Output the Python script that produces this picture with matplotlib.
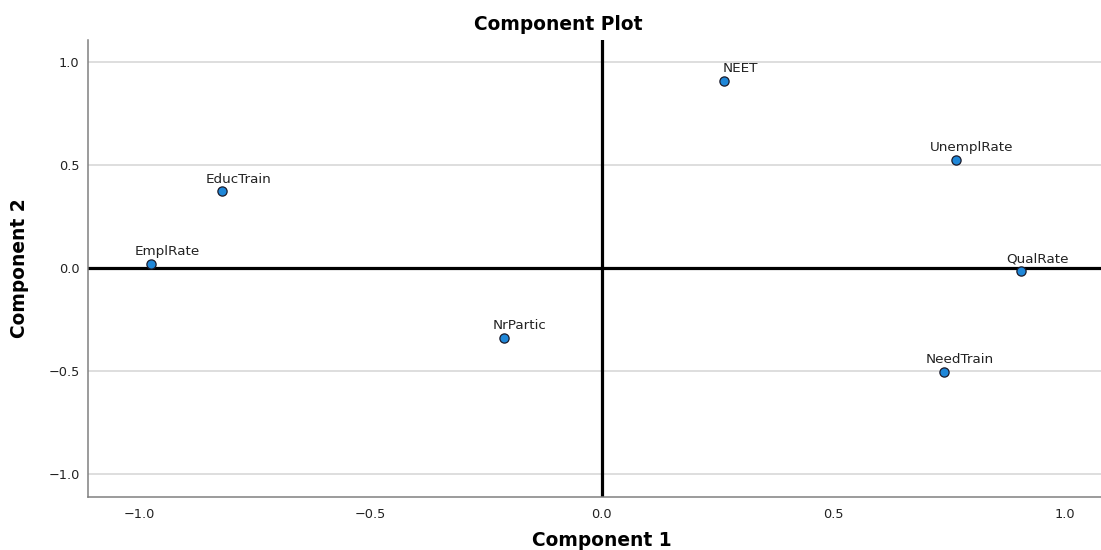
import matplotlib
matplotlib.use("Agg")
import matplotlib.pyplot as plt

# Component loadings (rotated) for each variable
variables = ["NEET", "UnemplRate", "QualRate", "NeedTrain",
             "EducTrain", "EmplRate", "NrPartic"]
component1 = [0.264, 0.765, 0.906, 0.739, -0.820, -0.973, -0.212]
component2 = [0.908, 0.524, -0.015, -0.505, 0.372, 0.019, -0.340]

x_ticks = [-1.0, -0.5, 0.0, 0.5, 1.0]
y_ticks = [-1.0, -0.5, 0.0, 0.5, 1.0]

W, H = 1101, 550
fig = plt.figure(figsize=(W / 100, H / 100), dpi=100)
ax = fig.add_axes([88 / W, 1 - 497 / H, (W - 88) / W, (497 - 40) / H])

ax.set_xlim(-1.110, 1.078)
ax.set_ylim(-1.112, 1.107)

# reference gridlines and zero axes
for yt in y_ticks:
    if yt != 0:
        ax.axhline(yt, color="#d4d4d4", lw=1.1, zorder=0)
ax.axhline(0, color="black", lw=2.3, zorder=1)
ax.axvline(0, color="black", lw=2.3, zorder=1)

ax.scatter(component1, component2, s=44, marker="o",
           facecolor="#1f87d8", edgecolor="#1a1a2a", linewidth=0.9, zorder=3)

for name, cx, cy in zip(variables, component1, component2):
    ax.annotate(name, (cx, cy), xytext=(11.5, 6.3), textcoords="offset points",
                ha="center", va="baseline", fontsize=9.7,
                family="DejaVu Sans", color="#222222", zorder=4)

ax.set_xticks(x_ticks)
ax.set_yticks(y_ticks)
ax.set_xticklabels([f"{v:.1f}".replace("-", "\u2212") for v in x_ticks])
ax.set_yticklabels([f"{v:.1f}".replace("-", "\u2212") for v in y_ticks])
ax.tick_params(length=0, labelsize=9.3, colors="#222222", pad=6)
ax.tick_params(axis="x", pad=8)

for side in ["top", "right"]:
    ax.spines[side].set_visible(False)
for side in ["left", "bottom"]:
    ax.spines[side].set_color("#808080")
    ax.spines[side].set_linewidth(1.1)

fig.text(558 / W, 1 - 25 / H, "Component Plot", ha="center", va="center",
         fontsize=13.4, fontweight="bold", family="DejaVu Sans")
fig.text(602 / W, 1 - 541 / H, "Component 1", ha="center", va="center",
         fontsize=13.4, fontweight="bold", family="DejaVu Sans")
fig.text(20 / W, 1 - 268 / H, "Component 2", ha="center", va="center",
         rotation=90, fontsize=13.4, fontweight="bold", family="DejaVu Sans")

fig.savefig("out.png", dpi=100)
